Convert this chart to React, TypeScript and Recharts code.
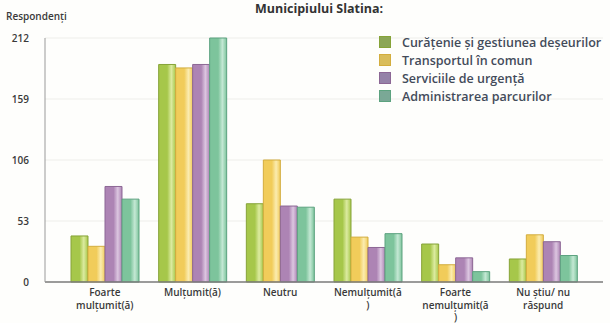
import { Bar, BarChart, CartesianGrid, Legend, XAxis, YAxis } from "recharts"

const categories = [
  "Foarte\nmulțumit(ă)",
  "Mulțumit(ă)",
  "Neutru",
  "Nemulțumit(ă\n)",
  "Foarte\nnemulțumit(ă\n)",
  "Nu știu/ nu\nrăspund",
]

const seriesNames = [
  "Curățenie și gestiunea deșeurilor",
  "Transportul în comun",
  "Serviciile de urgență",
  "Administrarea parcurilor",
]

const curatenie = [40, 189, 68, 72, 33, 20]
const transport = [31, 186, 106, 39, 15, 41]
const urgenta = [83, 189, 66, 30, 21, 35]
const parcuri = [72, 212, 65, 42, 9, 23]

const yTicks = [0, 53, 106, 159, 212]

const palette = [
  { fill: "#a6c74a", light: "#dcebA0", edge: "#86a338", key: "#8ba656" },
  { fill: "#f1cc5a", light: "#fbecb0", edge: "#d3ad3e", key: "#d9bd5c" },
  { fill: "#ad84b4", light: "#dcc6e0", edge: "#8c6795", key: "#9582a8" },
  { fill: "#7dc49c", light: "#c4e8d4", edge: "#5ca27f", key: "#7aa896" },
]

const keys = ["s0", "s1", "s2", "s3"]
const series = [curatenie, transport, urgenta, parcuri]

const data = categories.map((name, i) => ({
  name,
  s0: series[0][i],
  s1: series[1][i],
  s2: series[2][i],
  s3: series[3][i],
}))

const FONT = "'Open Sans', 'DejaVu Sans', sans-serif"

function CategoryTick(props: any) {
  const { x, y, payload } = props
  const lines = String(payload.value).split("\n")
  return (
    <text x={x} y={y + 12} textAnchor="middle" fill="#3a3a3a" fontSize={10} fontWeight={600} fontFamily={FONT}>
      {lines.map((l, i) => (
        <tspan key={i} x={x} dy={i === 0 ? 0 : 12.5}>
          {l}
        </tspan>
      ))}
    </text>
  )
}

function renderLegend() {
  return (
    <div style={{ fontFamily: FONT, fontSize: 12.5, fontWeight: 600, color: "#434b5a" }}>
      {seriesNames.map((n, i) => (
        <div key={n} style={{ display: "flex", alignItems: "center", height: 18, whiteSpace: "nowrap" }}>
          <span
            style={{
              display: "inline-block",
              width: 10,
              height: 10,
              background: palette[i].key,
              border: "1px solid " + palette[i].edge,
              marginRight: 11,
            }}
          />
          <span>{n}</span>
        </div>
      ))}
    </div>
  )
}

export default function App() {
  return (
    <div style={{ position: "absolute", left: 0, top: 0, width: 610, height: 323, background: "#fefefc", overflow: "hidden" }}>
      <div
        style={{
          position: "absolute",
          top: 0,
          left: 0,
          width: 638,
          lineHeight: "18px",
          textAlign: "center",
          fontFamily: FONT,
          fontWeight: 700,
          fontSize: 12.5,
          color: "#333",
        }}
      >
        Municipiului Slatina:
      </div>
      <div
        style={{
          position: "absolute",
          top: 9,
          left: 6,
          fontFamily: FONT,
          fontWeight: 600,
          fontSize: 10,
          color: "#3a3a3a",
        }}
      >
        Respondenți
      </div>
      <BarChart
        width={610}
        height={323}
        data={data}
        margin={{ top: 38, right: 7, bottom: 0, left: 0 }}
        barCategoryGap={10}
        barGap={0}
      >
        <defs>
          {palette.map((p, i) => (
            <linearGradient key={i} id={"g" + i} x1="0" y1="0" x2="1" y2="0">
              <stop offset="0%" stopColor={p.fill} />
              <stop offset="50%" stopColor={p.fill} />
              <stop offset="75%" stopColor={p.light} />
              <stop offset="100%" stopColor={p.fill} />
            </linearGradient>
          ))}
        </defs>
        <CartesianGrid vertical={false} stroke="#eeeeea" />
        <XAxis
          dataKey="name"
          interval={0}
          height={41}
          tick={<CategoryTick />}
          tickLine={false}
          tickSize={0}
          padding={{ left: 16, right: 16 }}
          axisLine={{ stroke: "#7d7d7d", strokeWidth: 1.5 }}
        />
        <YAxis
          width={45}
          domain={[0, 212]}
          ticks={yTicks}
          tickLine={false}
          tickSize={0}
          tickMargin={16}
          axisLine={{ stroke: "#9a9a9a" }}
          tick={{ fontSize: 10, fontWeight: 600, fill: "#3a3a3a", fontFamily: FONT }}
        />
        <Legend
          layout="vertical"
          align="center"
          verticalAlign="middle"
          content={renderLegend}
          wrapperStyle={{ top: 33, left: 379, width: 240 }}
        />
        {keys.map((k, i) => (
          <Bar
            key={k}
            dataKey={k}
            name={seriesNames[i]}
            fill={"url(#g" + i + ")"}
            stroke={palette[i].edge}
            strokeWidth={1}
            isAnimationActive={false}
          />
        ))}
      </BarChart>
    </div>
  )
}
